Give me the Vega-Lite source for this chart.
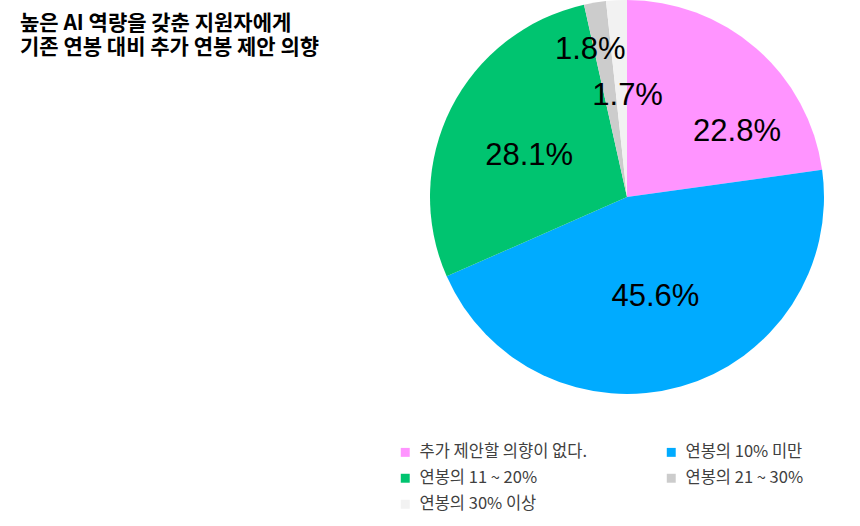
{
  "$schema": "https://vega.github.io/schema/vega-lite/v6.json",
  "autosize": "none",
  "width": 394,
  "height": 394,
  "padding": {"left": 430, "top": 0, "right": 36, "bottom": 132},
  "background": "white",
  "title": {
    "text": ["높은 AI 역량을 갖춘 지원자에게", "기존 연봉 대비 추가 연봉 제안 의향"],
    "anchor": "start",
    "frame": "group",
    "orient": "top",
    "offset": 0,
    "dx": -410,
    "dy": 58,
    "font": "Noto Sans CJK KR",
    "fontSize": 21,
    "fontWeight": "bold",
    "color": "#000000",
    "lineHeight": 24
  },
  "data": {
    "values": [
      {"category": "추가 제안할 의향이 없다.", "value": 22.8, "label": "22.8%", "order": 1},
      {"category": "연봉의 10% 미만", "value": 45.6, "label": "45.6%", "order": 2},
      {"category": "연봉의 11 ~ 20%", "value": 28.1, "label": "28.1%", "order": 3},
      {"category": "연봉의 21 ~ 30%", "value": 1.8, "label": "1.8%", "order": 4},
      {"category": "연봉의 30% 이상", "value": 1.7, "label": "1.7%", "order": 5}
    ]
  },
  "encoding": {
    "theta": {"field": "value", "type": "quantitative", "stack": true},
    "order": {"field": "order", "type": "quantitative"},
    "color": {
      "field": "category",
      "type": "nominal",
      "scale": {
        "domain": ["추가 제안할 의향이 없다.", "연봉의 11 ~ 20%", "연봉의 30% 이상", "연봉의 10% 미만", "연봉의 21 ~ 30%"],
        "range": ["#FF94FF", "#00C470", "#F2F2F2", "#00ABFF", "#CCCCCC"]
      },
      "legend": {
        "title": null,
        "orient": "none",
        "legendX": -33,
        "legendY": 444,
        "columns": 2,
        "columnPadding": 76,
        "rowPadding": 9,
        "symbolType": "square",
        "symbolSize": 80,
        "symbolStrokeWidth": 0,
        "labelFont": "Noto Sans CJK KR",
        "labelFontSize": 16.5,
        "labelColor": "#404040",
        "labelLimit": 300,
        "labelOffset": 6
      }
    }
  },
  "layer": [
    {
      "mark": {"type": "arc", "outerRadius": 197, "innerRadius": 0}
    },
    {
      "mark": {
        "type": "text",
        "radius": {"expr": "datum.order == 4 ? 152 : datum.order == 5 ? 101 : datum.order == 1 ? 128 : 104"},
        "dx": {"expr": "datum.order == 1 ? 26 : datum.order == 4 ? -12 : datum.order == 5 ? 6 : datum.order == 3 ? -5 : 0"},
        "dy": {"expr": "datum.order == 1 ? 32 : datum.order == 3 ? 6 : datum.order == 4 ? 3 : 0"},
        "font": "Liberation Sans",
        "fontSize": 31,
        "fill": "#000000"
      },
      "encoding": {
        "text": {"field": "label", "type": "nominal"},
        "color": {"value": "#000000"}
      }
    }
  ],
  "config": {"view": {"stroke": null}}
}
